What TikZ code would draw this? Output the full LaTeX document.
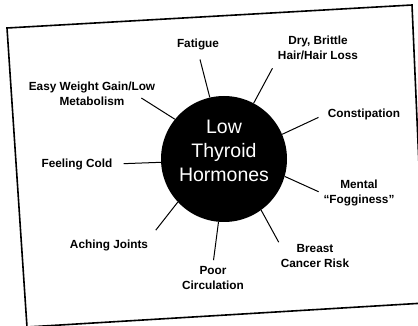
\documentclass[tikz,border=0pt]{standalone}
\usepackage{fontspec}
\setmainfont{Liberation Sans}
\usetikzlibrary{positioning,calc}

\begin{document}
\begin{tikzpicture}[x=1pt,y=-1pt,
   every node/.style={font=\bfseries\fontsize{11.8}{15}\selectfont},
   symptom/.style={align=center,inner sep=2pt},
   spoke/.style={line width=1pt},
   hubtext/.style={text=white,align=center,font=\fontsize{19.5}{24}\selectfont}]
  \useasboundingbox (0,0) rectangle (418,326);
  \clip (0,0) rectangle (418,326);
  \draw[line width=1.6pt] (7,28) -- (412,5) -- (425,303) -- (27,327) -- cycle;
  \node (hub) [circle,fill=black,minimum size=126pt,inner sep=0pt] at (224,159) {};
  \node (title) [hubtext] at (224,151) {Low\\Thyroid\\Hormones};
  \node (fat) [symptom] at (198,44) {Fatigue};
  \node (dry) [symptom] at (318,48) {Dry, Brittle\\Hair/Hair Loss};
  \node (con) [symptom] at (364,114) {Constipation};
  \node (men) [symptom] at (359,193) {Mental\\“Fogginess”};
  \node (bre) [symptom] at (315,256) {Breast\\Cancer Risk};
  \node (poo) [symptom] at (213,278) {Poor\\Circulation};
  \node (ach) [symptom] at (109,245) {Aching Joints};
  \node (col) [symptom] at (77,164) {Feeling Cold};
  \node (eas) [symptom] at (92,94) {Easy Weight Gain/Low\\Metabolism};
  \draw[spoke,shorten >=8pt] (hub.103) -- (fat.south);
  \draw[spoke,shorten >=7pt] (hub.62) -- (dry.south west);
  \draw[spoke,shorten >=8pt] (hub.23) -- (con.west);
  \draw[spoke,shorten >=3pt] (hub.-16) -- (men.west);
  \draw[spoke] (hub.-54) -- (bre.north west);
  \draw[spoke,shorten >=4pt] (hub.-95) -- (poo.north);
  \draw[spoke,shorten >=9pt] (hub.-137) -- (ach.north east);
  \draw[spoke,shorten >=9pt] (hub.183) -- (col.east);
  \draw[spoke] (hub.141) -- ([xshift=-16pt,yshift=-4pt]eas.east);
\end{tikzpicture}
\end{document}
